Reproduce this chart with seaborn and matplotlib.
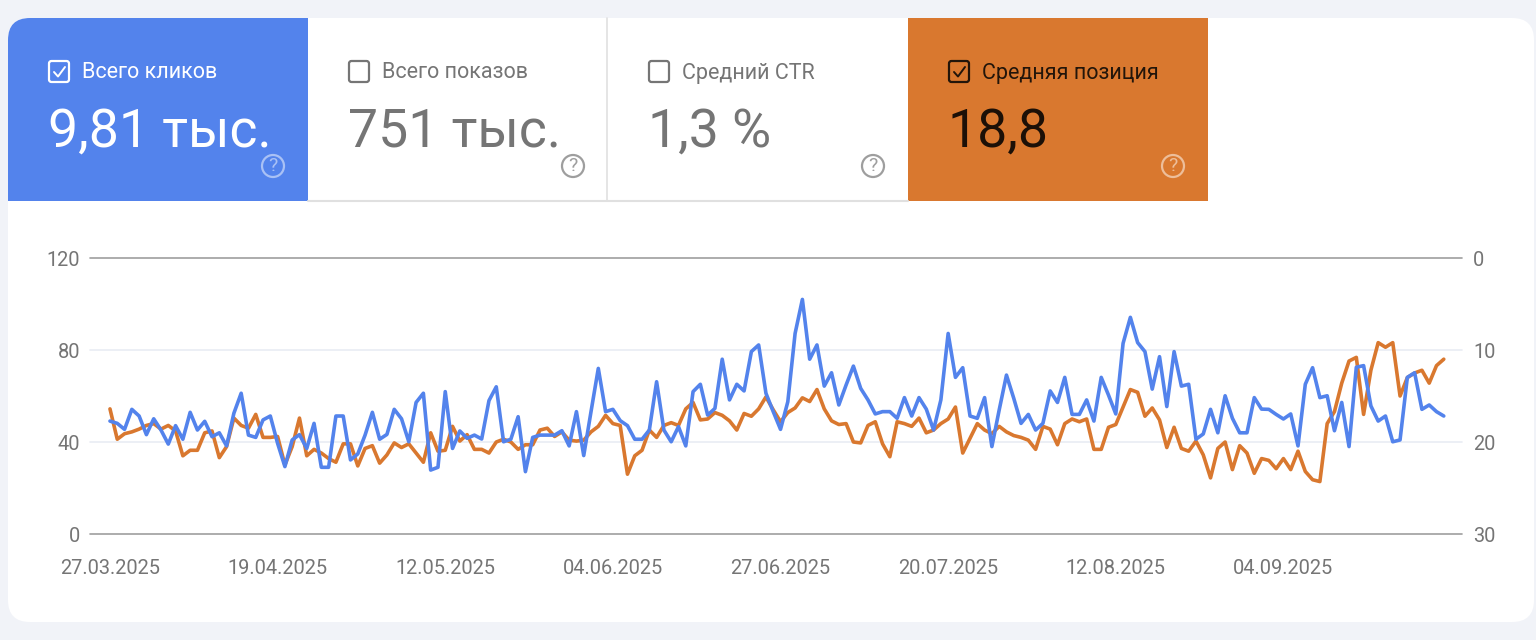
import pandas as pd
import seaborn as sns
import matplotlib.pyplot as plt
from matplotlib.patches import FancyBboxPatch, Rectangle, Circle

# значения: клики (левая ось), позиция (правая ось, перевёрнутая)
clicks = [
    49.1, 48.1, 45.5, 54.2, 51.3, 43.2, 50.1, 45.2, 39.1, 47.1, 41.2, 52.9, 45.2, 49.0, 42.3, 44.0,
    38.3, 52.5, 61.2, 43.0, 42.0, 49.6, 51.3, 39.4, 29.3, 40.9, 43.2, 37.2, 48.1, 29.0, 29.0, 51.3,
    51.3, 32.2, 34.8, 43.0, 52.9, 41.2, 43.3, 54.2, 50.1, 40.1, 57.2, 61.2, 27.8, 29.0, 61.9, 37.2,
    44.8, 41.6, 43.0, 41.3, 58.0, 64.0, 40.1, 41.2, 51.0, 27.1, 42.0, 43.0, 43.0, 43.0, 44.9, 38.3,
    53.2, 34.1, 53.2, 72.0, 53.2, 54.2, 49.3, 47.1, 41.2, 41.2, 45.2, 66.2, 45.2, 40.1, 46.7, 38.3,
    61.9, 65.1, 51.7, 54.6, 76.0, 58.3, 65.1, 62.2, 79.3, 82.2, 61.2, 53.2, 45.5, 57.5, 87.2, 102.0,
    76.0, 82.2, 64.3, 70.1, 56.1, 64.8, 73.0, 63.3, 58.3, 52.2, 53.2, 53.2, 50.3, 59.3, 51.3, 59.3,
    54.3, 45.2, 58.3, 87.2, 68.1, 72.3, 51.3, 50.3, 59.3, 38.0, 53.9, 69.1, 59.0, 48.1, 52.0, 45.2,
    48.1, 62.2, 57.2, 68.1, 52.0, 52.0, 58.3, 49.1, 68.1, 60.4, 52.2, 82.9, 94.2, 83.2, 79.3, 63.0,
    77.1, 55.4, 79.3, 64.3, 65.1, 41.2, 43.5, 54.2, 44.0, 60.1, 50.3, 44.0, 44.0, 59.3, 54.3, 54.2,
    52.0, 50.0, 52.2, 38.3, 65.1, 72.3, 59.3, 60.1, 44.9, 57.2, 38.0, 72.5, 73.2, 55.7, 49.1, 51.3,
    40.1, 40.9, 68.1, 70.1, 54.2, 56.1, 53.2, 51.3,
]
position = [
    16.4, 19.7, 19.1, 18.9, 18.6, 18.2, 18.0, 18.6, 18.2, 18.8, 21.5, 20.9, 20.9, 19.0, 18.8, 21.7,
    20.5, 17.4, 18.2, 18.5, 17.0, 19.5, 19.5, 19.4, 22.5, 20.5, 17.4, 21.5, 20.8, 21.2, 21.8, 22.2,
    20.2, 20.2, 22.6, 20.7, 20.4, 22.3, 21.4, 20.1, 20.6, 20.2, 21.2, 22.2, 19.0, 21.0, 20.9, 18.3,
    19.9, 19.2, 20.8, 20.8, 21.2, 20.0, 19.7, 20.0, 20.8, 20.3, 20.3, 18.7, 18.5, 19.4, 18.9, 19.8,
    19.9, 19.8, 18.9, 18.3, 17.1, 18.0, 18.2, 23.5, 21.5, 20.9, 18.7, 19.5, 18.2, 17.9, 18.2, 16.4,
    15.7, 17.6, 17.5, 16.8, 17.1, 17.7, 18.7, 16.9, 17.2, 16.4, 15.1, 16.5, 17.8, 16.8, 16.3, 15.2,
    15.6, 14.3, 16.4, 17.7, 18.1, 18.0, 20.0, 20.1, 18.2, 17.8, 20.2, 21.6, 17.8, 18.0, 18.3, 17.4,
    19.0, 18.7, 18.0, 17.5, 16.2, 21.2, 19.6, 18.0, 18.7, 19.1, 18.3, 18.9, 19.3, 19.5, 19.8, 20.8,
    18.3, 18.6, 20.3, 18.0, 17.5, 17.8, 17.5, 20.8, 20.8, 18.4, 18.1, 16.2, 14.3, 14.6, 17.2, 16.3,
    17.6, 20.6, 18.4, 20.7, 21.0, 19.9, 21.4, 23.9, 20.7, 20.0, 23.0, 20.4, 21.2, 23.4, 21.8, 22.0,
    22.9, 21.8, 23.0, 21.0, 23.2, 24.1, 24.3, 18.0, 16.7, 13.6, 11.2, 10.8, 17.0, 12.2, 9.2, 9.7,
    9.2, 15.0, 13.0, 12.5, 12.2, 13.6, 11.7, 11.0,
]
dates = pd.date_range("2025-03-27", periods=len(clicks), freq="D")
left_ticks = [0, 40, 80, 120]
right_ticks = [30, 20, 10, 0]

tab_titles = ["Всего кликов", "Всего показов", "Средний CTR", "Средняя позиция"]
tab_values = ["9,81 тыс.", "751 тыс.", "1,3 %", "18,8"]
tab_checked = [True, False, False, True]

BLUE = "#5383EC"
ORANGE = "#D9782F"
GREY = "#757575"

W, H = 1536, 640

sns.set_theme(style="white")
plt.rcParams["font.family"] = ["Roboto", "DejaVu Sans"]

fig = plt.figure(figsize=(W / 100, H / 100), dpi=100, facecolor="#F1F3F8")

# подложка в пикселях: карточка и вкладки
bg = fig.add_axes([0, 0, 1, 1], zorder=0)
bg.set_xlim(0, W)
bg.set_ylim(H, 0)
bg.axis("off")

card = FancyBboxPatch((8, 18), 1526, 604, boxstyle="round,pad=0,rounding_size=22",
                      fc="white", ec="none")
bg.add_patch(card)

tab_x = [8, 308, 608, 908]
tab_fc = [BLUE, None, None, ORANGE]
title_col = ["white", GREY, GREY, "#22150A"]
value_col = ["white", GREY, GREY, "#1C1007"]
box_col = ["white", GREY, GREY, "#22150A"]
help_col = ["#A9C1F5", "#9E9E9E", "#9E9E9E", "#EDBE9A"]

bg.plot([308, 908], [200.5, 200.5], color="#E0E0E0", lw=1.5)
bg.plot([607, 607], [18, 200], color="#E0E0E0", lw=1.2)
for i in range(4):
    x0 = tab_x[i]
    if tab_fc[i]:
        r = Rectangle((x0, 18), 300, 183, fc=tab_fc[i], ec="none")
        bg.add_patch(r)
        r.set_clip_path(card)
    # чекбокс
    bg.add_patch(FancyBboxPatch((x0 + 41, 61), 20, 21, boxstyle="round,pad=0,rounding_size=2.5",
                                fc="none", ec=box_col[i], lw=1.6))
    if tab_checked[i]:
        bg.plot([x0 + 46, x0 + 50, x0 + 57], [72, 76.5, 67], color=box_col[i], lw=1.4)
    bg.text(x0 + 74, 73, tab_titles[i], color=title_col[i], fontsize=15.5, va="center", ha="left")
    bg.text(x0 + 40, 132, tab_values[i], color=value_col[i], fontsize=38.5, va="center", ha="left")
    # значок справки
    bg.add_patch(Circle((x0 + 265, 166), 11, fc="none", ec=help_col[i], lw=1.6))
    bg.text(x0 + 265, 166, "?", color=help_col[i], fontsize=14, va="center", ha="center")

# сам график
ax = fig.add_axes([90 / W, 1 - 534 / H, (1462 - 90) / W, (534 - 258) / H], zorder=2)
ax2 = ax.twinx()
ax2.set_zorder(2)
ax.set_zorder(3)
ax.patch.set_visible(False)
ax2.patch.set_visible(False)

sns.lineplot(x=dates, y=position, ax=ax2, color=ORANGE, lw=2.6, errorbar=None)
sns.lineplot(x=dates, y=clicks, ax=ax, color=BLUE, lw=2.6, errorbar=None)

ax.set_xlim(dates[0] - pd.Timedelta(days=2.74), dates[0] + pd.Timedelta(days=185.5))
ax.set_ylim(0, 120)
ax2.set_ylim(30, 0)
ax.set_yticks(left_ticks)
ax2.set_yticks(right_ticks)

for t in right_ticks:
    c = "#9E9E9E" if t in (0, 30) else "#E9ECF4"
    ax2.axhline(t, color=c, lw=1.2, zorder=0, clip_on=False)

xt = dates[::23][:8]
ax.set_xticks(xt)
ax.set_xticklabels([d.strftime("%d.%m.%Y") for d in xt])
ax.tick_params(axis="x", length=0, pad=18, labelsize=14.4, labelcolor=GREY)
ax.tick_params(axis="y", length=0, pad=7, labelsize=14.4, labelcolor=GREY)
ax2.tick_params(axis="y", length=0, pad=8, labelsize=14.4, labelcolor=GREY)
ax.set_xlabel("")
ax.set_ylabel("")
ax2.set_ylabel("")
sns.despine(ax=ax, left=True, right=True, top=True, bottom=True)
sns.despine(ax=ax2, left=True, right=True, top=True, bottom=True)

fig.savefig("out.png", dpi=100, facecolor=fig.get_facecolor())
